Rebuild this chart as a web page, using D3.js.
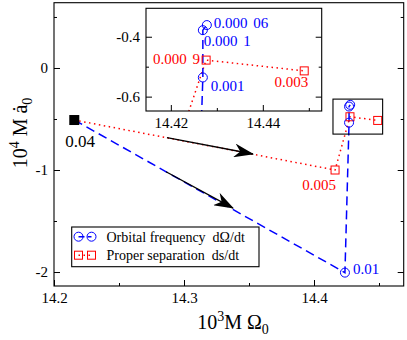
<!DOCTYPE html>
<html>
<head>
<meta charset="utf-8">
<script src="https://cdn.jsdelivr.net/npm/d3@7"></script>
<style>
  body { margin: 0; background: #fff; }
  svg, svg text, svg tspan { font-family: "Liberation Serif", "Times New Roman", "DejaVu Serif", serif !important; }
</style>
</head>
<body>
<script>
// values
var startX = 14.2156, startY = -0.51, startLabel = "0.04";

var freqX = [14.4238, 14.42696, 14.42696, 14.42783];
var freqY = [-2.006, -0.536, -0.378, -0.361];
var freqLabels = ["0.01", "0.001", "0.000 1", "0.000 06"];

var sepX = [14.4162, 14.42767, 14.449];
var sepY = [-1.0, -0.478, -0.514];
var sepLabels = ["0.005", "0.000 9", "0.003"];

var xTicks = [14.2, 14.3, 14.4];
var xMinor = [14.25, 14.35, 14.45];
var yTicks = [0, -1, -2];
var yMinor = [0.5, -0.5, -1.5];

var insetXTicks = [14.42, 14.44];
var insetXMinor = [14.43, 14.45];
var insetYTicks = [-0.4, -0.6];
var insetYMinor = [-0.5];

var arrowFrom = [[14.2869, -0.683], [14.2862, -1.017]];
var arrowTo = [[14.3531, -0.843], [14.3377, -1.373]];

var legendNames = ["Orbital frequency  d\u03A9/dt", "Proper separation  ds/dt"];

var width = 407, height = 340;
var blue = "#0000ff", red = "#ff0000";
var serif = "Liberation Serif, Times New Roman, serif";
var blueDash = "9,5", redDash = "1.5,3.5";

var svg = d3.select("body").append("svg")
  .attr("width", width)
  .attr("height", height)
  .attr("font-family", serif);

svg.append("rect").attr("width", width).attr("height", height).attr("fill", "#fff");

var x = d3.scaleLinear().domain([14.2, 14.469]).range([54, 403.7]);
var y = d3.scaleLinear().domain([0.64, -2.137]).range([2.7, 286]);

// inset scales
var xi = d3.scaleLinear().domain([14.4146, 14.4528]).range([146, 321.7]);
var yi = d3.scaleLinear().domain([-0.305, -0.648]).range([8.3, 111]);

var defs = svg.append("defs");
defs.append("marker")
  .attr("id", "head")
  .attr("viewBox", "0 -7 20 14")
  .attr("refX", 19)
  .attr("refY", 0)
  .attr("markerUnits", "userSpaceOnUse")
  .attr("markerWidth", 20)
  .attr("markerHeight", 14)
  .attr("orient", "auto")
  .append("path")
  .attr("d", "M0,-7 L20,0 L0,7 L6,0 Z")
  .attr("fill", "#000");

defs.append("clipPath").attr("id", "insetClip")
  .append("rect")
  .attr("x", xi.range()[0]).attr("y", yi.range()[0])
  .attr("width", xi.range()[1] - xi.range()[0])
  .attr("height", yi.range()[1] - yi.range()[0]);

function drawAxes(g, xs, ys, xt, xm, yt, ym, fmt) {
  var x0 = xs.range()[0], x1 = xs.range()[1];
  var y0 = ys.range()[0], y1 = ys.range()[1];
  function clean(sel) {
    sel.attr("font-family", serif);
    sel.select(".domain").remove();
    sel.selectAll(".tick line").attr("stroke", "#000");
    sel.selectAll("text").attr("fill", "#000").attr("font-size", "15px");
  }
  g.append("g").attr("transform", "translate(0," + y1 + ")")
    .call(d3.axisBottom(xs).tickValues(xt).tickSize(-6).tickSizeOuter(0).tickPadding(6).tickFormat(fmt))
    .call(clean);
  g.append("g").attr("transform", "translate(0," + y1 + ")")
    .call(d3.axisBottom(xs).tickValues(xm).tickSize(-3).tickSizeOuter(0).tickFormat(""))
    .call(clean);
  g.append("g").attr("transform", "translate(" + x0 + ",0)")
    .call(d3.axisLeft(ys).tickValues(yt).tickSize(-6).tickSizeOuter(0).tickPadding(6).tickFormat(fmt))
    .call(clean);
  g.append("g").attr("transform", "translate(" + x0 + ",0)")
    .call(d3.axisLeft(ys).tickValues(ym).tickSize(-3).tickSizeOuter(0).tickFormat(""))
    .call(clean);
  g.append("g").attr("transform", "translate(" + x1 + ",0)")
    .call(d3.axisRight(ys).tickValues(yt).tickSize(-6).tickSizeOuter(0).tickFormat(""))
    .call(clean);
  g.append("g").attr("transform", "translate(" + x1 + ",0)")
    .call(d3.axisRight(ys).tickValues(ym).tickSize(-3).tickSizeOuter(0).tickFormat(""))
    .call(clean);
  g.append("rect")
    .attr("x", x0).attr("y", y0)
    .attr("width", x1 - x0).attr("height", y1 - y0)
    .attr("fill", "none").attr("stroke", "#000").attr("stroke-width", 1.1);
}

function series(xs, ys, px, py) {
  var pts = [[startX, startY]];
  for (var i = 0; i < px.length; i++) pts.push([px[i], py[i]]);
  return d3.line().x(function(d){ return xs(d[0]); }).y(function(d){ return ys(d[1]); })(pts);
}

function drawMarks(g, xs, ys) {
  g.append("path").attr("d", series(xs, ys, sepX, sepY))
    .attr("fill", "none").attr("stroke", red).attr("stroke-width", 1.5)
    .attr("stroke-dasharray", redDash);
  g.append("path").attr("d", series(xs, ys, freqX, freqY))
    .attr("fill", "none").attr("stroke", blue).attr("stroke-width", 1.5)
    .attr("stroke-dasharray", blueDash);
  g.selectAll(".sq").data(sepX).enter().append("rect")
    .attr("x", function(d){ return xs(d) - 4; })
    .attr("y", function(d, i){ return ys(sepY[i]) - 4; })
    .attr("width", 8).attr("height", 8)
    .attr("fill", "none").attr("stroke", red).attr("stroke-width", 1);
  g.selectAll(".ci").data(freqX).enter().append("circle")
    .attr("cx", function(d){ return xs(d); })
    .attr("cy", function(d, i){ return ys(freqY[i]); })
    .attr("r", 4.5)
    .attr("fill", "none").attr("stroke", blue).attr("stroke-width", 1);
}

// main plot
var main = svg.append("g");
drawMarks(main, x, y);

main.append("rect")
  .attr("x", x(startX) - 5).attr("y", y(startY) - 5)
  .attr("width", 10).attr("height", 10).attr("fill", "#000");

main.selectAll(".arrow").data(arrowFrom).enter().append("line")
  .attr("x1", function(d){ return x(d[0]); })
  .attr("y1", function(d){ return y(d[1]); })
  .attr("x2", function(d, i){ return x(arrowTo[i][0]); })
  .attr("y2", function(d, i){ return y(arrowTo[i][1]); })
  .attr("stroke", "#000").attr("stroke-width", 1.3)
  .attr("marker-end", "url(#head)");

// zoom box in the main plot
main.append("rect")
  .attr("x", x(xi.domain()[0])).attr("y", y(yi.domain()[0]))
  .attr("width", x(xi.domain()[1]) - x(xi.domain()[0]))
  .attr("height", y(yi.domain()[1]) - y(yi.domain()[0]))
  .attr("fill", "none").attr("stroke", "#000").attr("stroke-width", 1.1);

drawAxes(main, x, y, xTicks, xMinor, yTicks, yMinor, function(d){ return String(d); });

// labels: [dx, dy, anchor]
var freqOffsets = [[8, 1, "start"], [8, 14, "start"], [1, 16, "start"], [7, 3, "start"]];
var sepOffsets = [[1, 20, "end"], [-6, 4, "end"], [4, 16, "end"]];

main.append("text")
  .attr("x", x(startX) - 9).attr("y", y(startY) + 27)
  .attr("font-size", "17px").attr("fill", "#000")
  .text(startLabel);

main.append("text")
  .attr("x", x(freqX[0]) + freqOffsets[0][0]).attr("y", y(freqY[0]) + freqOffsets[0][1])
  .attr("font-size", "15px").attr("fill", blue)
  .text(freqLabels[0]);

main.append("text")
  .attr("x", x(sepX[0]) + sepOffsets[0][0]).attr("y", y(sepY[0]) + sepOffsets[0][1])
  .attr("text-anchor", "end")
  .attr("font-size", "15px").attr("fill", red)
  .text(sepLabels[0]);

// inset
var inset = svg.append("g");
inset.append("rect")
  .attr("x", xi.range()[0]).attr("y", yi.range()[0])
  .attr("width", xi.range()[1] - xi.range()[0])
  .attr("height", yi.range()[1] - yi.range()[0])
  .attr("fill", "#fff");
var insetPlot = inset.append("g").attr("clip-path", "url(#insetClip)");
drawMarks(insetPlot, xi, yi);

for (var i = 1; i < freqLabels.length; i++) {
  inset.append("text")
    .attr("x", xi(freqX[i]) + freqOffsets[i][0]).attr("y", yi(freqY[i]) + freqOffsets[i][1])
    .attr("text-anchor", freqOffsets[i][2])
    .attr("font-size", "15px").attr("word-spacing", "2px").attr("fill", blue)
    .text(freqLabels[i]);
}
for (var j = 1; j < sepLabels.length; j++) {
  inset.append("text")
    .attr("x", xi(sepX[j]) + sepOffsets[j][0]).attr("y", yi(sepY[j]) + sepOffsets[j][1])
    .attr("text-anchor", sepOffsets[j][2])
    .attr("font-size", "15px").attr("word-spacing", "2px").attr("fill", red)
    .text(sepLabels[j]);
}

drawAxes(inset, xi, yi, insetXTicks, insetXMinor, insetYTicks, insetYMinor, function(d){ return String(d); });

// legend
var legend = svg.append("g");
legend.append("rect")
  .attr("x", 71.7).attr("y", 227).attr("width", 187.3).attr("height", 39.7)
  .attr("fill", "#fff").attr("stroke", "#000").attr("stroke-width", 1.1);

var legendColors = [blue, red];
var legendDash = ["6,3", "1.5,3.5"];
legendNames.forEach(function(name, k) {
  var ly = 236.7 + k * 18.5;
  legend.append("line")
    .attr("x1", 78.5).attr("x2", 91.5).attr("y1", ly).attr("y2", ly)
    .attr("stroke", legendColors[k]).attr("stroke-width", 1.5)
    .attr("stroke-dasharray", legendDash[k]);
  [78.5, 91.5].forEach(function(cx) {
    if (k == 0) {
      legend.append("circle").attr("cx", cx).attr("cy", ly).attr("r", 4.5)
        .attr("fill", "none").attr("stroke", blue);
    } else {
      legend.append("rect").attr("x", cx - 4).attr("y", ly - 4)
        .attr("width", 8).attr("height", 8)
        .attr("fill", "none").attr("stroke", red);
    }
  });
  legend.append("text")
    .attr("x", 106.5).attr("y", ly).attr("dy", "0.35em")
    .attr("font-size", "14px").attr("fill", "#000")
    .style("white-space", "pre")
    .text(name);
});

// axis titles
var xt = svg.append("text")
  .attr("x", 233).attr("y", 329)
  .attr("text-anchor", "middle")
  .attr("font-size", "20px").attr("fill", "#000");
xt.append("tspan").text("10");
xt.append("tspan").attr("font-size", "14px").attr("dy", -8).text("3");
xt.append("tspan").attr("dy", 8).text("M \u03A9");
xt.append("tspan").attr("font-size", "14px").attr("dy", 5).text("0");

var yt = svg.append("text")
  .attr("transform", "translate(27,133) rotate(-90)")
  .attr("text-anchor", "middle")
  .attr("font-size", "20px").attr("fill", "#000");
yt.append("tspan").text("10");
yt.append("tspan").attr("font-size", "14px").attr("dy", -8).text("4");
yt.append("tspan").attr("dy", 8).text(" M \u0227");
yt.append("tspan").attr("font-size", "14px").attr("dy", 5).text("0");
</script>
</body>
</html>
